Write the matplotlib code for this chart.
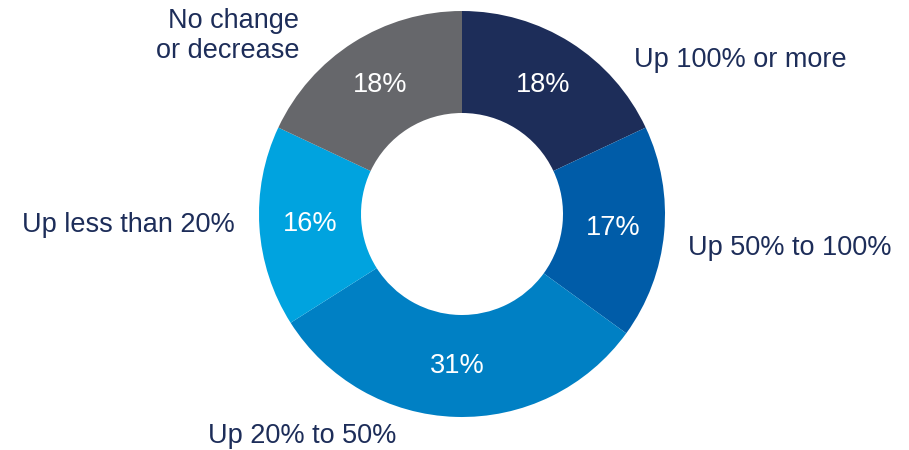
import matplotlib
matplotlib.use("Agg")
import matplotlib.pyplot as plt

categories = ["Up 100% or more", "Up 50% to 100%", "Up 20% to 50%",
              "Up less than 20%", "No change\nor decrease"]
values = [18, 17, 31, 16, 18]
colors = ["#1d2d59", "#005ca8", "#0080c4", "#00a3df", "#66676b"]

plt.rcParams['font.family'] = ['Liberation Sans', 'DejaVu Sans']

W, H = 909, 450
fig = plt.figure(figsize=(W / 100, H / 100), dpi=100)
ax = fig.add_axes([0, 0, 1, 1])
ax.set_xlim(0, W)
ax.set_ylim(0, H)
ax.set_aspect('equal')
ax.axis('off')

cx, cy = 462, H - 214
R = 203
wedges, texts, autotexts = ax.pie(
    values, colors=colors, startangle=90, counterclock=False,
    center=(cx, cy), radius=R, autopct=lambda p: f"{p:.0f}%",
    pctdistance=0.75, wedgeprops=dict(width=R - 101, linewidth=0),
    textprops=dict(color="white", fontsize=19.5), frame=True)
ax.set_xlim(0, W)
ax.set_ylim(0, H)
ax.axis('off')

label_color = "#1d2d59"
# (x, y_center in image px, ha)
label_pos = [(634, 60, 'left'), (688, 248, 'left'), (208, 436, 'left'),
             (235, 225, 'right'), (299, 36, 'right')]
for lab, (x, y, ha) in zip(categories, label_pos):
    ax.text(x, H - y, lab, ha=ha, va='center', ma=ha, fontsize=19.5,
            color=label_color, linespacing=1.15)

fig.savefig("out.png", dpi=100)
